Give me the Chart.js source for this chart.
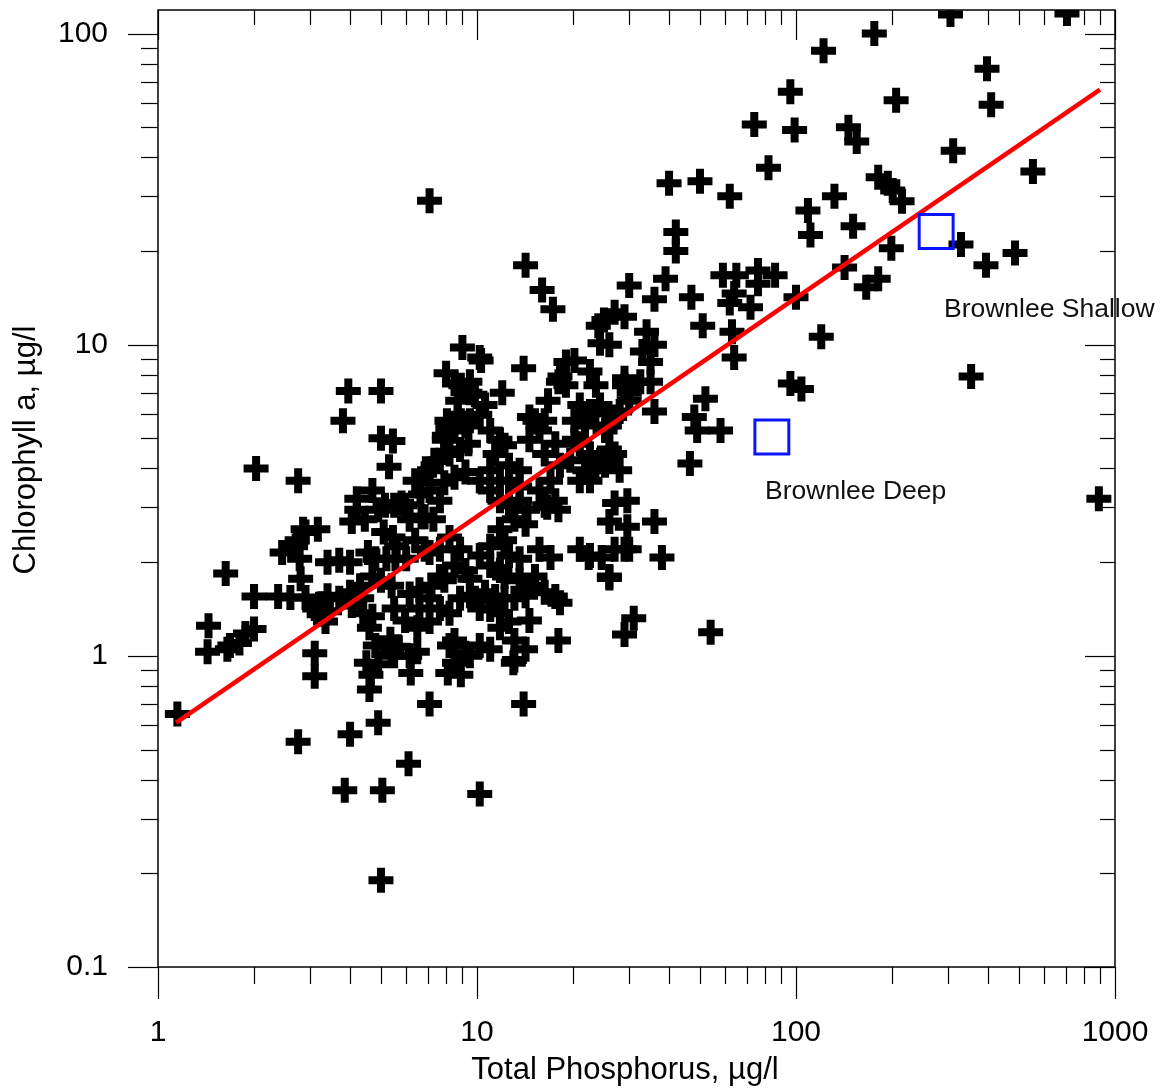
<!DOCTYPE html>
<html>
<head>
<meta charset="utf-8">
<script src="https://cdn.jsdelivr.net/npm/chart.js@4.4.0/dist/chart.umd.min.js"></script>
<style>
  html, body { margin: 0; padding: 0; background: #fff; }
</style>
</head>
<body>
<canvas id="myChart" width="1161" height="1089"></canvas>
<script>
// lake observations: total phosphorus (ug/l) and chlorophyll a (ug/l)
const tp = [
  7.1, 176, 122, 305, 707, 397, 409, 206, 96, 74, 99, 146, 155, 82, 311, 553, 40, 50, 62, 181,
  194, 201, 215, 132, 109, 111, 151, 199, 142, 181, 166, 100, 329, 394, 486, 42, 42, 14.2, 16, 17.3,
  39, 36, 30, 47, 59, 65, 76, 86, 76, 64, 62, 72, 27, 29, 25, 24, 26, 24.3, 34, 36,
  33, 35, 51, 63, 64, 19, 18, 14, 10.3, 12, 23.6, 29, 35, 30, 21, 23.5, 36, 27, 52, 48,
  49, 58, 46.5, 96, 104, 120, 354, 890, 27, 29.6, 26, 29.6, 36, 27, 29, 38, 26, 21, 22.6, 18,
  16.6, 31, 29, 54, 18, 13, 14, 10.2,
  1.15, 1.43, 1.65, 1.8, 3.1, 3.1, 2.75, 4.0, 4.9, 6.1, 7.1, 3.85, 5.05, 5.0, 4.6, 4.65, 4.5, 4.9, 5.4, 6.2,
  6.5, 5.65, 8.1, 8.9, 8.5, 9.2,
  2.03, 2.75, 1.63, 2.0, 1.44, 1.68, 1.88, 2.0, 2.45, 2.7, 2.78, 2.38, 2.9, 2.6, 3.1, 3.2, 2.8, 2.85, 3.17, 2.73,
  3.4, 3.7, 3.8, 3.95, 5.0, 5.0, 5.45, 5.3, 4.7, 4.2, 4.2, 4.45, 4.05, 4.9, 5.15, 5.5, 5.95, 5.1, 5.45, 5.6,
  4.8, 5.2, 5.55, 6.0, 4.7, 5.0, 5.4, 4.3, 4.0, 4.35, 4.05, 3.7, 3.45, 4.4, 4.7, 4.6, 4.8, 5.35, 5.5, 6.15,
  6.5, 7.1, 6.15, 6.6, 7.2, 7.65, 7.9, 8.5, 9.2, 9.5, 7.65, 8.2, 8.85, 6.4, 6.85, 7.1, 6.15, 6.7, 7.3, 6.65,
  7.1, 7.65, 7.9, 8.5, 9.2, 7.1, 7.65, 8.2, 8.85, 9.4, 7.9, 8.5, 9.2, 8.05, 8.7, 9.5, 8.7, 8.9, 8.0, 9.0,
  10.2, 9.5, 9.85, 10.6, 10.2, 11, 11.8, 12.2, 11.4, 12.6, 13.6, 11, 10.2, 11, 11.8, 12.6, 13.6, 11.8, 12.6, 13.6,
  14.4, 13.1, 14.2, 11.8, 12.2, 11, 10.2, 11, 11.8, 10.6, 11.4, 9.85, 10.2, 11, 11.8, 12.2, 13.1, 14.2, 13.6, 14.6,
  15.2, 11.8, 12.6, 13.1, 10.2, 11, 9.5, 8.5, 8.2, 7.65, 8.2, 8.85, 9.5, 7.1, 6.6, 5.5, 5.95,
  15.2, 16.3, 14.6, 15.7, 16.3, 17.6, 18.2, 19.6, 17, 15.7, 17.6, 16.3, 20.2, 21, 22.6, 24.3, 26, 21.8, 23.5, 25.2,
  27, 28, 21, 22.6, 20.2, 21.8, 25.2, 26, 22.6, 24.3, 28, 30, 29, 32.5, 20.2, 22.6, 19, 18.2, 16.7, 14.6,
  6.4, 6.85, 7.35, 7.9, 8.1, 8.9, 7.9, 8.5, 9.5, 5.8, 6.85, 2.9, 3.4, 4.0, 4.55, 3.25, 3.35, 22.4, 24.6, 26,
  30, 12.6, 13.6, 12.2, 15.7, 17, 16.3, 17.6, 18.2, 14.6, 14.2, 13.1
];
const chla = [
  29, 100, 88, 115, 116, 77, 59, 61, 65, 51, 49, 50, 45, 37, 42, 36, 33, 33.5, 30, 34.5,
  33, 31.3, 28.9, 30, 27, 22.5, 24, 20.4, 17.7, 16.3, 15.3, 14.2, 21, 18, 19.7, 23, 20, 18, 15, 13,
  16.3, 14, 15.5, 14.2, 16.7, 16.7, 17.3, 16.7, 15.7, 14.6, 13.6, 13.2, 12.7, 12.3, 12, 11.5, 10, 10.1, 11, 10,
  9.5, 8.8, 11.5, 11, 9.1, 8.8, 7.6, 8.4, 8.9, 7, 7.4, 7.8, 7.6, 7.0, 6.4, 6.1, 6.1, 5.85, 6.7, 5.85,
  5.3, 5.3, 4.15, 7.5, 7.2, 10.6, 7.9, 3.2, 3.1, 3.15, 2.7, 2.6, 2.7, 2.2, 2.2, 2.07, 1.8, 2.2, 2.1, 2.95,
  3.0, 1.32, 1.17, 1.19, 1.12, 0.95, 0.7, 0.36,
  0.65, 1.03, 1.05, 1.1, 1.02, 0.86, 0.53, 0.56, 0.61, 0.45, 0.7, 0.37, 0.37, 0.19, 0.78, 0.87, 0.95, 0.94, 1.03, 0.88,
  1.03, 1.07, 0.88, 0.87, 0.95, 1.02,
  4.0, 3.65, 1.84, 1.55, 1.25, 1.08, 1.18, 1.22, 2.15, 2.25, 2.05, 1.55, 1.54, 1.54, 1.42, 1.36, 1.77, 2.55, 2.55, 2.35,
  1.56, 2.03, 5.7, 7.1, 7.1, 5.0, 4.9, 4.05, 3.4, 3.2, 2.95, 2.75, 2.7, 2.95, 3.05, 3.05, 3.05, 2.5, 2.4, 2.25,
  2.05, 2.05, 2.05, 2.05, 1.8, 1.75, 1.68, 1.68, 1.6, 1.53, 1.45, 1.53, 1.39, 1.37, 1.34, 1.23, 1.08, 1.13, 1.0, 1.0,
  1.23, 1.29, 1.58, 1.63, 1.68, 1.8, 1.75, 1.95, 1.88, 1.77, 2.2, 2.4, 2.2, 2.35, 2.2, 2.15, 2.75, 2.8, 2.75, 3.3,
  3.4, 3.15, 3.6, 3.75, 3.9, 3.95, 4.25, 4.45, 4.6, 4.8, 4.95, 5.3, 5.5, 5.7, 5.95, 5.7, 6.6, 7.4, 8.1, 9.8,
  9.1, 7.6, 6.9, 6.4, 5.95, 5.3, 4.95, 4.75, 4.45, 4.1, 3.95, 3.95, 3.65, 3.4, 3.65, 3.65, 3.5, 3.15, 3.05, 3.15,
  2.95, 2.75, 2.65, 2.55, 2.35, 2.25, 2.1, 1.95, 1.88, 1.6, 1.55, 1.53, 1.42, 1.41, 1.37, 1.53, 1.53, 1.56, 1.75, 1.68,
  1.8, 1.23, 1.29, 1.12, 1.08, 1.05, 1.0, 1.12, 1.08, 1.42, 1.37, 1.53, 1.56, 1.53, 1.42, 1.42, 1.3,
  5.7, 5.7, 4.95, 5.3, 4.45, 4.8, 4.1, 4.25, 3.65, 3.4, 3.15, 3.05, 4.95, 4.8, 4.45, 4.25, 4.6, 3.95, 3.95, 4.1,
  4.45, 3.95, 3.65, 3.65, 5.7, 5.5, 5.3, 5.5, 6.1, 6.4, 6.1, 6.6, 7.4, 7.6, 8.9, 8.2, 7.4, 7.9, 6.6, 5.85,
  3.65, 3.85, 4.25, 4.5, 5.4, 5.7, 5.1, 7.5, 7.0, 3.1, 2.8, 2.5, 2.0, 2.0, 2.15, 1.47, 1.29, 2.07, 2.07, 1.78,
  2.2, 2.1, 2.05, 1.8, 2.2, 2.07, 1.6, 1.55, 1.48, 1.3, 1.05, 0.97
];

// regression line end points
const fitTP = [1.14, 897];
const fitChla = [0.61, 66];

// Brownlee Reservoir
const brownleeNames = ['Brownlee Deep', 'Brownlee Shallow'];
const brownleeTP = [84, 275];
const brownleeChla = [5.05, 23.1];
const brownleeLabelTP = [80, 291];
const brownleeLabelChla = [3.36, 13.0];

// axes
const xTickValues = [1, 10, 100, 1000];
const xTickLabels = ['1', '10', '100', '1000'];
const yTickValues = [0.1, 1, 10, 100];
const yTickLabels = ['0.1', '1', '10', '100'];
const xTitle = 'Total Phosphorus, µg/l';
const yTitle = 'Chlorophyll a, µg/l';
const xMin = 1, xMax = 1000, yMin = 0.1, yMax = 119;

const FONT = "'Liberation Sans', Arial, Helvetica, sans-serif";

const lakes = tp.map((v, i) => ({ x: v, y: chla[i] }));
const fitLine = fitTP.map((v, i) => ({ x: v, y: fitChla[i] }));
const brownlee = brownleeTP.map((v, i) => ({ x: v, y: brownleeChla[i] }));

function logTicks(min, max) {
  const out = [];
  for (let k = -2; k <= 4; k++) {
    for (let m = 1; m <= 9; m++) {
      const v = m * Math.pow(10, k);
      if (v >= min * 0.999 && v <= max * 1.001) out.push({ v: v, major: m === 1 });
    }
  }
  return out;
}

// frame, tick marks and all text are drawn here
const frameTicks = {
  id: 'frameTicks',
  afterDraw(chart) {
    const { ctx, chartArea: a } = chart;
    const x = chart.scales.x, y = chart.scales.y;
    ctx.save();
    ctx.strokeStyle = '#000';
    ctx.lineWidth = 1.2;
    const seg = (x1, y1, x2, y2) => {
      ctx.beginPath(); ctx.moveTo(x1, y1); ctx.lineTo(x2, y2); ctx.stroke();
    };
    logTicks(xMin, xMax).forEach(t => {
      const px = Math.round(x.getPixelForValue(t.v)) + 0.5;
      seg(px, a.bottom, px, a.bottom + (t.major ? 32 : 17));
      seg(px, a.top, px, a.top + (t.major ? 30 : 15));
    });
    logTicks(yMin, yMax).forEach(t => {
      const py = Math.round(y.getPixelForValue(t.v)) + 0.5;
      seg(a.left, py, a.left - (t.major ? 30 : 17), py);
      seg(a.right, py, a.right - (t.major ? 30 : 15), py);
    });
    ctx.lineWidth = 1.5;
    ctx.strokeRect(a.left, a.top, a.right - a.left, a.bottom - a.top);

    ctx.fillStyle = '#000';
    ctx.textBaseline = 'middle';
    ctx.font = '30px ' + FONT;
    ctx.textAlign = 'center';
    xTickValues.forEach((v, i) => ctx.fillText(xTickLabels[i], x.getPixelForValue(v), a.bottom + 66));
    ctx.textAlign = 'right';
    yTickValues.forEach((v, i) => ctx.fillText(yTickLabels[i], a.left - 50, y.getPixelForValue(v)));

    // axis titles
    ctx.font = '31px ' + FONT;
    ctx.textAlign = 'center';
    ctx.fillText(xTitle, 625, 1070);
    ctx.save();
    ctx.translate(26, 450);
    ctx.rotate(-Math.PI / 2);
    ctx.fillText(yTitle, 0, 0);
    ctx.restore();

    // Brownlee labels
    ctx.fillStyle = '#111';
    ctx.font = '26.5px ' + FONT;
    ctx.textAlign = 'left';
    brownleeNames.forEach((n, i) => {
      ctx.fillText(n, x.getPixelForValue(brownleeLabelTP[i]), y.getPixelForValue(brownleeLabelChla[i]));
    });
    ctx.restore();
  }
};

const ctx = document.getElementById('myChart').getContext('2d');
const chart = new Chart(ctx, {
  type: 'scatter',
  data: {
    datasets: [
      {
        label: 'Brownlee',
        data: brownlee,
        pointStyle: 'rect',
        pointRadius: 24,
        borderColor: '#0a14ff',
        backgroundColor: 'rgba(0,0,0,0)',
        borderWidth: 3,
        order: 0
      },
      {
        type: 'line',
        label: 'Fit',
        data: fitLine,
        borderColor: '#ff0000',
        borderWidth: 4.5,
        pointRadius: 0,
        fill: false,
        order: 1
      },
      {
        label: 'Lakes',
        data: lakes,
        pointStyle: 'cross',
        pointRadius: 12.5,
        borderColor: '#000',
        borderWidth: 8,
        order: 2
      }
    ]
  },
  options: {
    responsive: false,
    animation: false,
    devicePixelRatio: 1,
    layout: { autoPadding: false, padding: { top: 10, right: 46, left: 0, bottom: 0 } },
    plugins: { legend: { display: false }, tooltip: { enabled: false } },
    scales: {
      x: {
        type: 'logarithmic',
        position: 'bottom',
        min: xMin,
        max: xMax,
        grid: { display: false },
        border: { display: false },
        ticks: { display: false },
        afterFit: s => { s.height = 122; }
      },
      y: {
        type: 'logarithmic',
        position: 'left',
        min: yMin,
        max: yMax,
        grid: { display: false },
        border: { display: false },
        ticks: { display: false },
        afterFit: s => { s.width = 158; }
      }
    }
  },
  plugins: [frameTicks]
});
</script>
</body>
</html>
